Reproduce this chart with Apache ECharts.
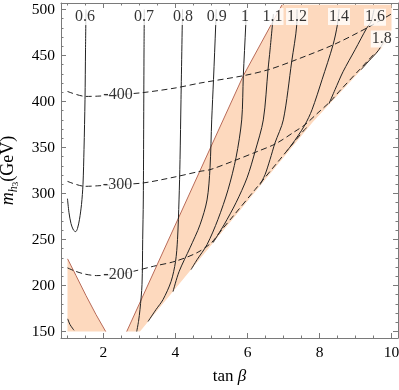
<!DOCTYPE html>
<html>
<head>
<meta charset="utf-8">
<script src="https://cdn.jsdelivr.net/npm/echarts@6.0.0/dist/echarts.min.js"></script>
<style>html,body{margin:0;padding:0;background:#fff}#main{width:399px;height:390px}</style>
</head>
<body>
<div id="main"></div>
<script>
// tick positions
var xMajor = [2, 4, 6, 8, 10];
var xMinor = [1, 1.5, 2.5, 3, 3.5, 4.5, 5, 5.5, 6.5, 7, 7.5, 8.5, 9, 9.5];
var yMajor = [150, 200, 250, 300, 350, 400, 450, 500];
var yMinor = [160, 170, 180, 190, 210, 220, 230, 240, 260, 270, 280, 290, 310, 320, 330, 340,
  360, 370, 380, 390, 410, 420, 430, 440, 460, 470, 480, 490];

// allowed regions (tan beta, m)
var bandLeft = [[2.645, 150], [5.884, 428], [6.606, 479.8], [6.959, 505]];
var bandRight = [[3.014, 150], [7.82, 378], [9.681, 456.2], [10, 469]];
var bandTop = [[10, 505]];
var blob = [[1, 150], [1, 229], [1.237, 210.8], [1.514, 189.1], [1.792, 168.5], [2.062, 150]];
var blobEdge = [[1.003, 229], [1.237, 210.8], [1.514, 189.1], [1.792, 168.5], [2.062, 150]];

// solid contours
var c06 = [[1.514, 500], [1.501, 456], [1.487, 402], [1.459, 348], [1.431, 310], [1.389, 288], [1.334, 272],
  [1.278, 262], [1.228, 258.6], [1.167, 260.2], [1.098, 267.3], [1.042, 279.2], [1.0, 294.4]];
var c07 = [[3.134, 500], [3.126, 456], [3.117, 380], [3.106, 293], [3.089, 250], [3.07, 201], [3.014, 174],
  [2.973, 161], [2.923, 150]];
var c08 = [[4.195, 500], [4.153, 402], [4.126, 337], [4.098, 293], [4.056, 250], [4.001, 226], [3.876, 204.3],
  [3.653, 184.7], [3.459, 173.9], [3.237, 160.9]];
var c09 = [[5.131, 500], [5.117, 483], [5.056, 424], [5.006, 380], [4.959, 328], [4.876, 293], [4.681, 266],
  [4.403, 241], [4.098, 215], [3.931, 193.4]];
var c10 = [[5.967, 500], [5.951, 483], [5.884, 428], [5.839, 380], [5.681, 339], [5.459, 304], [5.181, 272],
  [4.876, 244.5], [4.598, 228], [4.431, 217.3]];
var c11 = [[6.72, 495], [6.626, 456], [6.57, 434.5], [6.439, 380], [6.209, 345.4], [5.987, 317], [5.681, 290],
  [5.348, 266], [5.042, 246.6]];
var c12 = [[7.376, 500], [7.367, 483], [7.228, 443.5], [6.995, 380], [6.764, 355], [6.626, 337], [6.487, 320.5],
  [6.348, 309.6]];
var c14 = [[8.542, 500], [8.495, 483], [8.376, 461.6], [8.07, 423.6], [7.792, 391], [7.598, 374.8], [7.404, 362.8],
  [7.209, 352], [7.098, 346.5]];
var c16 = [[9.514, 500], [9.431, 486.6], [9.312, 479.8], [8.987, 456.2], [8.653, 432.3], [8.431, 412.8], [8.264, 397.6]];
var c18 = [[9.848, 469], [9.626, 455], [9.376, 444.3], [9.153, 434.5]];
var cLow = [[1.006, 163.8], [1.07, 157.6], [1.181, 151.4]];

// dashed contours
var d200 = [[1.0, 219.2], [1.209, 215.7], [1.487, 212.4], [1.812, 210.8], [2.403, 212.4], [2.737, 214.6],
  [3.384, 220.9], [3.987, 226.3], [4.589, 235.5], [4.99, 246.3], [5.29, 260.8], [5.614, 276], [6.209, 304.2],
  [6.895, 336.8], [7.581, 369.3], [7.66, 372]];
var d300 = [[1.0, 313.2], [1.487, 307.8], [1.903, 308.5], [2.389, 309.6], [3.106, 311.5], [3.987, 318],
  [4.681, 324.1], [4.959, 325.9], [5.653, 336], [6.237, 345.1], [6.784, 354.1], [7.32, 367.5], [7.598, 374.8],
  [7.959, 387.8], [8.292, 399.7], [8.592, 412.8], [9.109, 434.5], [9.495, 450.8]];
var d400 = [[1.0, 410.9], [1.506, 405.5], [1.903, 405.9], [2.403, 407.3], [3.126, 409.8], [3.987, 414.6],
  [4.681, 420], [5.884, 428], [6.578, 434.5], [7.228, 443.5], [8.384, 461.6], [9.312, 479.8], [9.959, 494.2],
  [10, 495.3]];

// contour labels
var labTxt = ['0.6', '0.7', '0.8', '0.9', '1', '1.1', '1.2', '1.4', '1.6', '1.8', '-400', '-300', '-200'];
var labT = [1.487, 3.126, 4.209, 5.145, 5.931, 6.695, 7.376, 8.542, 9.542, 9.728, 2.403, 2.389, 2.403];
var labM = [492.3, 492.3, 492.3, 492.3, 492.3, 492.3, 492.3, 492.3, 491.5, 467.9, 407.3, 309.6, 211.9];

var serif = '"Liberation Serif", "DejaVu Serif", serif';
var frame = '#7a7a7a';
var shade = '#fdd9be';
var brown = '#b86a58';

var band = bandLeft.concat(bandTop, bandRight.slice().reverse());
var areas = [band, blob];

function xAx(pos, vals, len, line, labels) {
  return {
    type: 'value', min: 0.82, max: 10.18, position: pos, splitLine: { show: false },
    axisLine: { show: line, onZero: false, lineStyle: { color: frame, width: 1 } },
    axisTick: { show: true, inside: true, length: len, customValues: vals, lineStyle: { color: frame } },
    axisLabel: { show: labels, customValues: vals, margin: 7, color: '#000', fontFamily: serif, fontSize: 15.5 }
  };
}
function yAx(pos, vals, len, line, labels) {
  return {
    type: 'value', min: 143, max: 507, position: pos, splitLine: { show: false },
    axisLine: { show: line, onZero: false, lineStyle: { color: frame, width: 1 } },
    axisTick: { show: true, inside: true, length: len, customValues: vals, lineStyle: { color: frame } },
    axisLabel: { show: labels, customValues: vals, margin: 6, color: '#000', fontFamily: serif, fontSize: 15.5 }
  };
}

var xMain = xAx('bottom', xMajor, 5, true, true);
xMain.name = '{a|tan }{b|β}';
xMain.nameLocation = 'middle';
xMain.nameGap = 30;
xMain.nameTextStyle = { rich: {
  a: { fontFamily: serif, fontSize: 17, color: '#000' },
  b: { fontFamily: serif, fontSize: 17, fontStyle: 'italic', color: '#000' }
} };

var yMain = yAx('left', yMajor, 5, true, true);
yMain.name = '{m|m}{h|h}{t|3}{g|(GeV)}';
yMain.nameLocation = 'middle';
yMain.nameRotate = 90;
yMain.nameGap = 41;
yMain.nameTextStyle = { rich: {
  m: { fontFamily: serif, fontSize: 18, fontStyle: 'italic', color: '#000', lineHeight: 24 },
  h: { fontFamily: serif, fontSize: 12, fontStyle: 'italic', color: '#000', lineHeight: 13, verticalAlign: 'bottom' },
  t: { fontFamily: serif, fontSize: 9, color: '#000', lineHeight: 9, verticalAlign: 'bottom' },
  g: { fontFamily: serif, fontSize: 18, color: '#000', lineHeight: 24 }
} };

function solid(d) {
  return { type: 'line', data: d, showSymbol: false, smooth: 0.3, silent: true, z: 3,
    lineStyle: { color: '#222', width: 1 } };
}
function dashed(d) {
  return { type: 'line', data: d, showSymbol: false, smooth: 0.3, silent: true, z: 3,
    lineStyle: { color: '#222', width: 1, type: [6, 3.5] } };
}
function edge(d) {
  return { type: 'line', data: d, showSymbol: false, silent: true, z: 2,
    lineStyle: { color: brown, width: 1 } };
}

var myChart = echarts.init(document.getElementById('main'));
myChart.setOption({
  animation: false,
  grid: { left: 61, top: 3, width: 337, height: 335, outerBoundsMode: 'none', containLabel: false },
  xAxis: [xMain, xAx('bottom', xMinor, 2.5, false, false), xAx('top', xMajor, 5, true, false), xAx('top', xMinor, 2.5, false, false)],
  yAxis: [yMain, yAx('left', yMinor, 2.5, false, false), yAx('right', yMajor, 5, true, false), yAx('right', yMinor, 2.5, false, false)],
  series: [
    {
      type: 'custom', silent: true, z: 1, clip: true,
      data: areas.map(function (a) { return a[0]; }),
      renderItem: function (params, api) {
        var pts = areas[params.dataIndex].map(function (p) { return api.coord(p); });
        return { type: 'polygon', shape: { points: pts }, style: { fill: shade } };
      }
    },
    edge(bandLeft), edge(blobEdge),
    solid(c06), solid(c07), solid(c08), solid(c09), solid(c10), solid(c11), solid(c12),
    solid(c14), solid(c16), solid(c18), solid(cLow),
    dashed(d200), dashed(d300), dashed(d400),
    {
      type: 'scatter', silent: true, z: 5, symbolSize: 1,
      itemStyle: { color: 'rgba(0,0,0,0)' },
      data: labTxt.map(function (s, i) { return { name: s, value: [labT[i], labM[i]] }; }),
      label: { show: true, position: 'inside', formatter: '{b}', color: '#000', fontFamily: serif,
        fontSize: 16, backgroundColor: '#fff', padding: [1, 1, 0, 1] }
    }
  ]
});
</script>
</body>
</html>
